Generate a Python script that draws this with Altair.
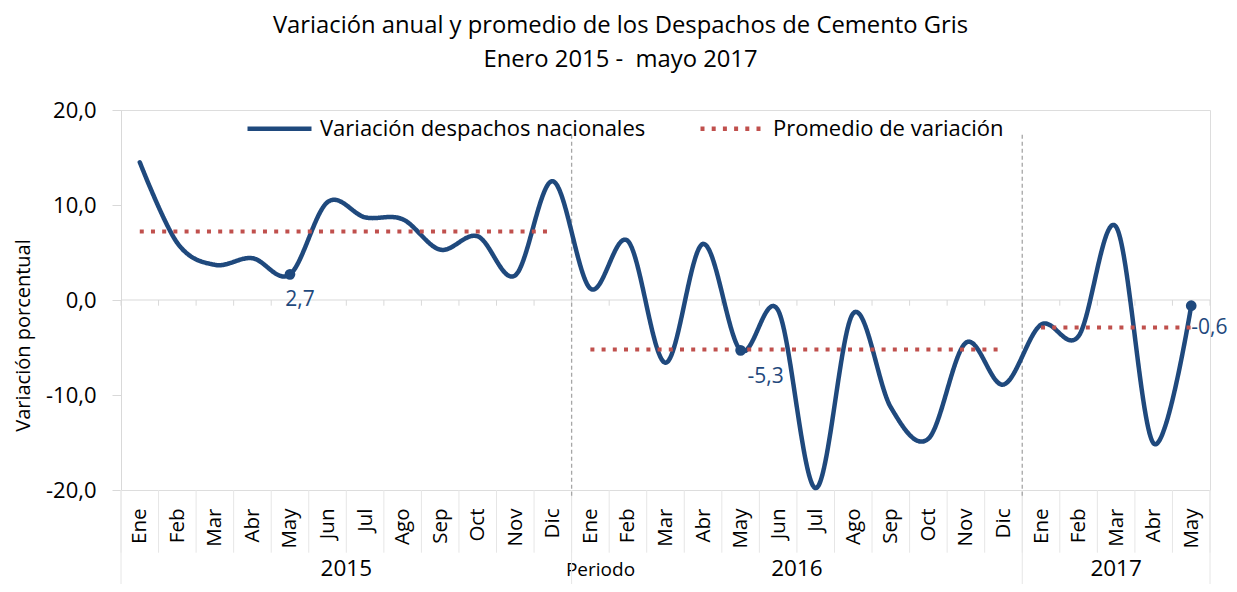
import altair as alt
import pandas as pd

# ---------------- data ----------------
meses = ["Ene", "Feb", "Mar", "Abr", "May", "Jun", "Jul", "Ago", "Sep", "Oct", "Nov", "Dic"]
anios = [2015, 2016, 2017]
meses_por_anio = [12, 12, 5]
var_2015 = [14.5, 6.0, 3.7, 4.4, 2.7, 10.3, 8.7, 8.5, 5.3, 6.7, 2.6, 12.5]
var_2016 = [1.2, 6.2, -6.6, 5.9, -5.3, -1.1, -19.8, -1.4, -11.3, -14.6, -4.5, -8.9]
var_2017 = [-2.6, -3.8, 7.7, -15.1, -0.6]
promedios = [7.2, -5.2, -2.9]
etiquetas_mes = ["May", "May", "May"]
etiquetas_texto = ["2,7", "-5,3", "-0,6"]
y_ticks = [-20, -10, 0, 10, 20]

serie_var = "Variación despachos nacionales"
serie_prom = "Promedio de variación"

# ---------------- tables ----------------
valores = [var_2015, var_2016, var_2017]
rows = []
idx = 0
inicio = []
for a, n, vals in zip(anios, meses_por_anio, valores):
    inicio.append(idx)
    for m in range(n):
        rows.append({"idx": idx, "mes": meses[m], "anio": a, "valor": vals[m], "serie": serie_var})
        idx += 1
df = pd.DataFrame(rows)
n_total = len(df)

prom_rows = []
for a, n, s, p in zip(anios, meses_por_anio, inicio, promedios):
    prom_rows.append({"idx": s, "valor": p, "anio": a, "serie": serie_prom})
    prom_rows.append({"idx": s + n - 1, "valor": p, "anio": a, "serie": serie_prom})
df_prom = pd.DataFrame(prom_rows)

ann_rows = []
for a, m, t in zip(anios, etiquetas_mes, etiquetas_texto):
    r = df[(df.anio == a) & (df.mes == m)].iloc[0]
    ann_rows.append({"idx": r.idx, "valor": r.valor, "texto": t, "anio": a})
df_ann = pd.DataFrame(ann_rows)

limites = [i - 0.5 for i in range(n_total + 1)]
lim_anio = [s - 0.5 for s in inicio] + [n_total - 0.5]
df_lim = pd.DataFrame({"idx": limites})
df_lim_anio = pd.DataFrame({"idx": lim_anio})
df_sep = pd.DataFrame({"idx": lim_anio[1:-1]})
df_anios = pd.DataFrame({
    "idx": [(s - 0.5 + s + n - 0.5) / 2 for s, n in zip(inicio, meses_por_anio)],
    "texto": [str(a) for a in anios],
})

# ---------------- encodings ----------------
FONT = "Open Sans"
label_expr = "[" + ",".join("'%s'" % m for m in df.mes) + "][datum.value]"

x_scale = alt.Scale(domain=[-0.5, n_total - 0.5], nice=False, zero=False)
y_scale = alt.Scale(domain=[-20, 20], nice=False, zero=False)

x_axis = alt.Axis(
    values=list(range(n_total)), labelExpr=label_expr, labelAngle=-90,
    labelAlign="right", labelBaseline="middle", labelPadding=18,
    ticks=False, domain=False, grid=False, labelOverlap=False,
    labelFont=FONT, labelFontSize=20.5, labelColor="#000000",
    title="Periodo", titleFont=FONT, titleFontSize=19, titleFontWeight="normal",
    titleColor="#000000", titleX=479, titleY=79, titleAlign="center",
    titleBaseline="middle",
)
y_axis = alt.Axis(
    values=y_ticks,
    labelExpr="(datum.value < 0 ? '-' : '') + replace(format(abs(datum.value), '.1f'), '.', ',')",
    tickSize=9, tickColor="#d9d9d9", domainColor="#d9d9d9", grid=False,
    labelPadding=16, labelFont=FONT, labelFontSize=22, labelColor="#000000",
    title="Variación porcentual", titleFont=FONT, titleFontSize=20,
    titleFontWeight="normal", titleColor="#000000",
    titleX=-98, titleY=225, titleAlign="center", titleBaseline="middle",
)

X = alt.X("idx:Q", scale=x_scale, axis=x_axis)


def Yf(field="valor"):
    return alt.Y(field + ":Q", scale=y_scale, axis=y_axis)


def Yd(v):
    return alt.Y(datum=v, scale=y_scale, axis=y_axis)


def leyenda():
    return alt.Legend(
        title=None, orient="none", direction="horizontal", legendX=124, legendY=-16,
        labelFont=FONT, labelFontSize=22, labelColor="#000000", labelOffset=6,
        symbolType="stroke", symbolSize=4096, symbolStrokeWidth=4.5,
        columnPadding=45, labelLimit=500,
    )


dominio = [serie_var, serie_prom]
color = alt.Color("serie:N", scale=alt.Scale(domain=dominio, range=["#1f497d", "#c0504d"]), legend=leyenda())
dash = alt.StrokeDash("serie:N", scale=alt.Scale(domain=dominio, range=[[1, 0], [4, 7.2]]), legend=leyenda())

# ---------------- layers ----------------
zero_line = alt.Chart(df_lim.head(1)).mark_rule(color="#d9d9d9", strokeWidth=1).encode(
    y=Yd(0)
)
zero_ticks = alt.Chart(df_lim).mark_rule(color="#d9d9d9", strokeWidth=1).encode(
    x=X, y=Yd(0), y2=alt.Y2(datum=-0.6)
)
sep_bottom = alt.Chart(df_lim).mark_rule(color="#e6e6e6", strokeWidth=1).encode(
    x=X, y=Yd(-20), y2=alt.Y2(datum=-26.6)
)
sep_anio = alt.Chart(df_lim_anio).mark_rule(color="#e6e6e6", strokeWidth=1).encode(
    x=X, y=Yd(-20), y2=alt.Y2(datum=-30.8)
)
sep_plot = alt.Chart(df_sep).mark_rule(color="#a6a6a6", strokeWidth=1.3, strokeDash=[4, 3]).encode(
    x=X, y=Yd(17.4), y2=alt.Y2(datum=-20.8)
)
linea = alt.Chart(df).mark_line(strokeWidth=4.5, interpolate="cardinal", strokeCap="round").encode(
    x=X, y=Yf(), color=color, strokeDash=dash, order="idx:Q"
)
prom = alt.Chart(df_prom).mark_line(strokeWidth=4).encode(
    x=X, y=Yf(), color=color, strokeDash=dash, detail="anio:N"
)
puntos = alt.Chart(df_ann).mark_point(filled=True, size=115, opacity=1, color="#1f497d").encode(
    x=X, y=Yf()
)

ann_layers = []
offsets = [(10, 26, "center"), (25, 27, "center"), (0, 22, "left")]
for (a, (dx, dy, al)) in zip(anios, offsets):
    ann_layers.append(
        alt.Chart(df_ann[df_ann.anio == a]).mark_text(
            font=FONT, fontSize=21, color="#1f497d", align=al, baseline="middle", dx=dx, dy=dy
        ).encode(x=X, y=Yf(), text="texto:N")
    )

year_labels = alt.Chart(df_anios).mark_text(
    font=FONT, fontSize=22.5, color="#000000", align="center", baseline="middle"
).encode(x=X, y=Yd(-28.3), text="texto:N")

chart = alt.layer(
    zero_line, zero_ticks, sep_bottom, sep_anio, sep_plot, linea, prom, puntos,
    *ann_layers, year_labels,
).properties(
    width=1089, height=380,
    title=alt.TitleParams(
        text=["Variación anual y promedio de los Despachos de Cemento Gris", "Enero 2015 -\u00a0 mayo 2017"],
        font=FONT, fontSize=23.8, fontWeight="normal", color="#000000",
        anchor="middle", dx=-45, lineHeight=34, offset=22,
    ),
    autosize=alt.AutoSizeParams(type="none"),
    padding={"left": 113, "top": 102, "right": 19, "bottom": 94},
).configure_view(stroke=None).configure(background="white")

chart.save("out.html", embed_options={"renderer": "svg", "actions": False})
